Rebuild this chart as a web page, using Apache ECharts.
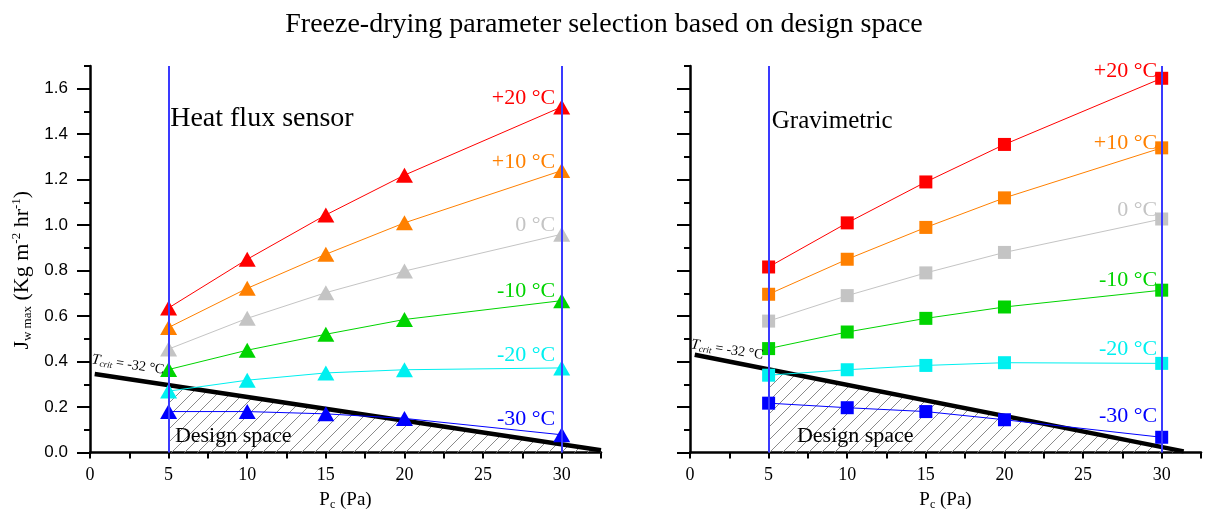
<!DOCTYPE html>
<html>
<head>
<meta charset="utf-8">
<title>Freeze-drying design space</title>
<script src="https://cdn.jsdelivr.net/npm/echarts/dist/echarts.min.js"></script>
<style>
  html, body { margin: 0; padding: 0; background: #fff; }
  #chart { width: 1208px; height: 517px; }
</style>
</head>
<body>
<div id="chart"></div>
<script>
// Chamber pressure settings (Pa) and axis tick labels
const pressures = [5, 10, 15, 20, 30];
const xTicks = [0, 5, 10, 15, 20, 25, 30];
const yTicks = [0, 0.2, 0.4, 0.6, 0.8, 1.0, 1.2, 1.4, 1.6];
const shelfTemps = ['+20 °C', '+10 °C', '0 °C', '-10 °C', '-20 °C', '-30 °C'];

// Maximum sublimation rate (kg m-2 h-1), heat flux sensor
const hfPlus20 = [0.636, 0.85, 1.045, 1.22, 1.52];
const hfPlus10 = [0.55, 0.722, 0.872, 1.01, 1.24];
const hfZero = [0.455, 0.59, 0.703, 0.798, 0.96];
const hfMinus10 = [0.365, 0.45, 0.52, 0.585, 0.668];
const hfMinus20 = [0.27, 0.318, 0.35, 0.364, 0.372];
const hfMinus30 = [0.18, 0.18, 0.17, 0.15, 0.078];

// Maximum sublimation rate (kg m-2 h-1), gravimetric
const grPlus20 = [0.816, 1.01, 1.19, 1.355, 1.646];
const grPlus10 = [0.696, 0.85, 0.99, 1.12, 1.34];
const grZero = [0.578, 0.69, 0.79, 0.88, 1.027];
const grMinus10 = [0.457, 0.53, 0.59, 0.64, 0.714];
const grMinus20 = [0.34, 0.364, 0.383, 0.395, 0.392];
const grMinus30 = [0.217, 0.197, 0.18, 0.144, 0.067];

// Product temperature limit T_crit = -32 °C, end points [Pc, J]
const hfTcrit = [[0.3, 0.345], [32.5, 0.01]];
const grTcrit = [[0.3, 0.43], [31.4, 0.005]];

// Pressure range that bounds the design space
const pressureBounds = [5, 30];

// ---- styling ----
const SERIF = '"Liberation Serif", "Times New Roman", serif';
const SANS = '"Liberation Sans", Arial, sans-serif';
const tempColors = ['#ff0000', '#ff8000', '#c4c4c4', '#00d400', '#00f0f0', '#0000ff'];
const hfLabelDy = [-9, -8, -9, -9, -13, -16];
const grLabelDy = [-7, -5, -9, -10, -14, -21];

const panels = [
  { series: [hfPlus20, hfPlus10, hfZero, hfMinus10, hfMinus20, hfMinus30], tcrit: hfTcrit,
    symbol: 'triangle', symbolSize: [17, 15], labelDy: hfLabelDy, left: 90 },
  { series: [grPlus20, grPlus10, grZero, grMinus10, grMinus20, grMinus30], tcrit: grTcrit,
    symbol: 'rect', symbolSize: 13, labelDy: grLabelDy, left: 690 }
];

// single "/" hatch tile that repeats seamlessly
function hatchPattern() {
  const s = 13;
  const c = document.createElement('canvas');
  c.width = s; c.height = s;
  const ctx = c.getContext('2d');
  ctx.strokeStyle = '#8a8a8a';
  ctx.lineWidth = 1;
  ctx.beginPath();
  ctx.moveTo(0, s); ctx.lineTo(s, 0);
  ctx.moveTo(-2, 2); ctx.lineTo(2, -2);
  ctx.moveTo(s - 2, s + 2); ctx.lineTo(s + 2, s - 2);
  ctx.stroke();
  return { image: c, repeat: 'repeat' };
}
const hatch = hatchPattern();

const grids = [], xAxes = [], yAxes = [], series = [];

panels.forEach((pn, g) => {
  grids.push({ left: pn.left, top: 66, width: 511, height: 386.5 });

  xAxes.push({
    type: 'value', gridIndex: g, min: 0, max: 32.5, interval: 2.5,
    axisLine: { lineStyle: { color: '#000', width: 2.5 } },
    axisTick: { length: 6, lineStyle: { color: '#000', width: 2 } },
    splitLine: { show: false },
    axisLabel: { customValues: xTicks, color: '#000', fontFamily: SERIF, fontSize: 18, margin: 14 },
    name: '{n|P}{s|c}{n| (Pa)}',
    nameLocation: 'middle', nameGap: 37,
    nameTextStyle: {
      color: '#000', fontFamily: SERIF, fontSize: 19,
      rich: {
        n: { fontFamily: SERIF, fontSize: 19, color: '#000' },
        s: { fontFamily: SERIF, fontSize: 12, color: '#000', padding: [9, 0, 0, 0] }
      }
    }
  });

  // axis with line, minor (0.1) ticks and labels
  yAxes.push({
    type: 'value', gridIndex: g, position: 'left', min: 0, max: 1.7, interval: 0.1,
    axisLine: { show: true, lineStyle: { color: '#000', width: 2.5 } },
    axisTick: { length: 6, lineStyle: { color: '#000', width: 2 } },
    splitLine: { show: false },
    axisLabel: {
      show: g === 0, customValues: yTicks, formatter: v => v.toFixed(1),
      color: '#000', fontFamily: SANS, fontSize: 17, margin: 22
    },
    name: g === 0 ? '{n|J}{s|w max}{n| (Kg m}{p|-2}{n| hr}{p|-1}{n|)}' : '',
    nameLocation: 'middle', nameGap: 56,
    nameTextStyle: {
      color: '#000', fontFamily: SERIF, fontSize: 22, padding: [0, 22, 0, 0],
      rich: {
        n: { fontFamily: SERIF, fontSize: 22, color: '#000' },
        s: { fontFamily: SERIF, fontSize: 13, color: '#000', padding: [11, 0, 0, 0] },
        p: { fontFamily: SERIF, fontSize: 13, color: '#000', padding: [0, 0, 11, 0] }
      }
    }
  });
  // companion axis on the same side carrying the longer major (0.2) ticks
  yAxes.push({
    type: 'value', gridIndex: g, position: 'left', offset: 0, min: 0, max: 1.7,
    axisLine: { show: false },
    axisTick: { show: true, customValues: yTicks, length: 13, lineStyle: { color: '#000', width: 2 } },
    axisLabel: { show: false },
    splitLine: { show: false }
  });

  // hatched design space: under the T_crit line, right of the lowest pressure
  series.push({
    type: 'custom', xAxisIndex: g, yAxisIndex: 2 * g, silent: true, z: 1,
    data: [[pn.tcrit[0][0], pn.tcrit[0][1]]],
    renderItem: (params, api) => {
      const a = api.coord(pn.tcrit[0]);
      const b = api.coord(pn.tcrit[1]);
      const b0 = api.coord([pn.tcrit[1][0], 0]);
      const a0 = api.coord([pn.tcrit[0][0], 0]);
      const cut = api.coord([pressureBounds[0], 0]);
      return {
        type: 'polygon',
        shape: { points: [a, b, b0, a0] },
        style: { fill: hatch, stroke: null },
        clipPath: { type: 'rect', shape: { x: cut[0], y: 0, width: 2000, height: 2000 } }
      };
    }
  });

  // T_crit line with the pressure bounds as vertical guides
  series.push({
    type: 'line', xAxisIndex: g, yAxisIndex: 2 * g, z: 2, silent: true,
    data: pn.tcrit, symbol: 'none',
    lineStyle: { color: '#000', width: 4.5 },
    markLine: {
      silent: true, symbol: ['none', 'none'], label: { show: false },
      lineStyle: { color: '#3a3aff', width: 2, type: 'solid' },
      data: pressureBounds.map(v => ({ xAxis: v }))
    }
  });

  pn.series.forEach((vals, k) => {
    const last = pressures.length - 1;
    series.push({
      type: 'line', name: shelfTemps[k], xAxisIndex: g, yAxisIndex: 2 * g, z: 3,
      data: pressures.map((p, i) => i === last
        ? { value: [p, vals[i]], label: { show: true } }
        : [p, vals[i]]),
      symbol: pn.symbol, symbolSize: pn.symbolSize, showAllSymbol: true,
      itemStyle: { color: tempColors[k] },
      lineStyle: { color: tempColors[k], width: 1 },
      label: {
        show: false, position: 'left', distance: -2, offset: [0, pn.labelDy[k]],
        formatter: () => shelfTemps[k],
        color: tempColors[k], fontFamily: SERIF, fontSize: 22
      }
    });
  });
});

const chart = echarts.init(document.getElementById('chart'), null, { renderer: 'canvas' });
chart.setOption({
  animation: false,
  backgroundColor: '#fff',
  title: {
    text: 'Freeze-drying parameter selection based on design space',
    left: 'center', top: 6,
    textStyle: { fontFamily: SERIF, fontSize: 28, fontWeight: 'normal', color: '#000' }
  },
  grid: grids, xAxis: xAxes, yAxis: yAxes, series: series
});

// annotations anchored in data coordinates
const at = (g, pt) => chart.convertToPixel({ xAxisIndex: g, yAxisIndex: 2 * g }, pt);
const tcritRich = {
  t: { fontFamily: SERIF, fontStyle: 'italic', fontSize: 15, fill: '#000' },
  s: { fontFamily: SERIF, fontStyle: 'italic', fontSize: 9, fill: '#000', padding: [7, 0, 0, 0] },
  n: { fontFamily: SERIF, fontSize: 14, fill: '#000' }
};
function textEl(g, pt, text, size) {
  const p = at(g, pt);
  return {
    type: 'text', x: p[0], y: p[1], silent: true, z: 10,
    style: { text: text, fill: '#000', font: size + 'px ' + SERIF, align: 'left', verticalAlign: 'middle' }
  };
}
function tcritEl(g, pt) {
  const p = at(g, pt);
  return {
    type: 'text', x: p[0], y: p[1], rotation: -0.15, silent: true, z: 10,
    style: { text: '{t|T}{s|crit}{n| = -32 °C}', rich: tcritRich, fill: '#000', align: 'left', verticalAlign: 'top' }
  };
}
chart.setOption({
  graphic: [
    textEl(0, [5.1, 1.47], 'Heat flux sensor', 28),
    textEl(1, [5.2, 1.455], 'Gravimetric', 25),
    textEl(0, [5.4, 0.07], 'Design space', 22),
    textEl(1, [6.8, 0.07], 'Design space', 22),
    tcritEl(0, [0.2, 0.445]),
    tcritEl(1, [0.15, 0.51])
  ]
});
</script>
</body>
</html>
